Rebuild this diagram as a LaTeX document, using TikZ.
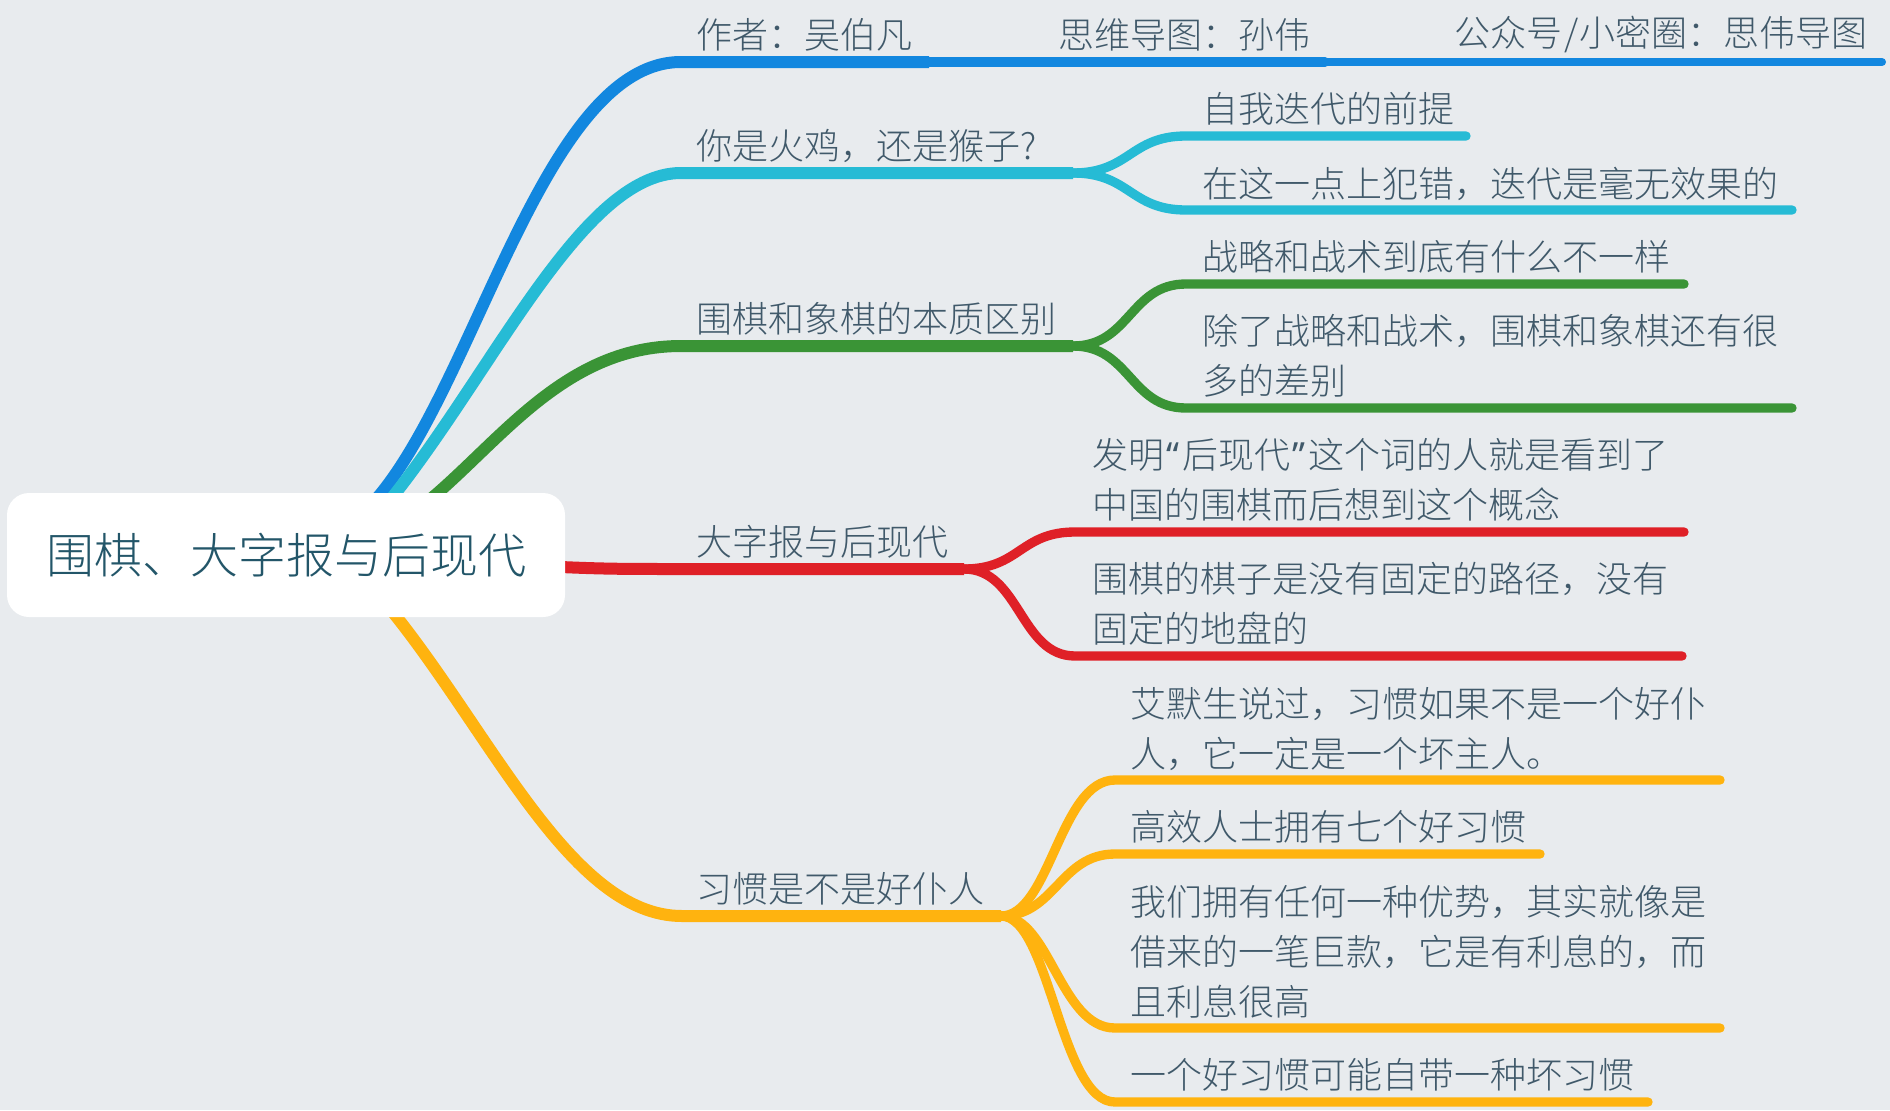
\documentclass[tikz,border=0pt]{standalone}
\usepackage{fontspec}
\setmainfont{Noto Sans CJK SC Light}
\newfontfamily\quotefont{Noto Sans}
\definecolor{bgc}{HTML}{E8EBEE}
\definecolor{txt}{HTML}{40596A}
\definecolor{roottxt}{HTML}{235669}
\definecolor{cblue}{HTML}{1287DF}
\definecolor{ccyan}{HTML}{26BBD5}
\definecolor{cgreen}{HTML}{3A9436}
\definecolor{cred}{HTML}{DF2027}
\definecolor{cyel}{HTML}{FFB30F}
\newcommand{\halfq}[1]{\makebox[13.5pt]{\quotefont #1}}
\tikzset{
  label/.style={anchor=west,inner sep=0pt,outer sep=0pt,yshift=0.2pt,text=txt,align=left,font=\fontsize{27}{37.5}\selectfont},
  rootbox/.style={fill=white,rounded corners=22*0.75pt,inner sep=0pt,minimum width=558*0.75pt,minimum height=124*0.75pt,text=roottxt,font=\fontsize{36}{40}\selectfont},
  mainline/.style={line width=9pt},
  midline/.style={line width=7.2pt,line cap=round},
  endline/.style={line width=6pt,line cap=round},
  subline/.style={line width=7pt,line cap=round}
}
\begin{document}
\begin{tikzpicture}[x=0.75pt,y=-0.75pt]
\useasboundingbox[fill=bgc] (0,0) rectangle (1890,1110);
% junction and end points
\coordinate (rb) at (366,510);
\coordinate (rc) at (382,510);
\coordinate (rg) at (417,510);
\coordinate (rr) at (540,566);
\coordinate (ry) at (387,605);
\coordinate (b0) at (681,62);
\coordinate (b1) at (929,62);
\coordinate (b2) at (1325,62);
\coordinate (b3) at (1882,62);
\coordinate (c0) at (681,173);
\coordinate (c1) at (1073,173);
\coordinate (g0) at (681,346);
\coordinate (g1) at (1073,346);
\coordinate (r0) at (681,569);
\coordinate (r1) at (964,569);
\coordinate (y0) at (682,916);
\coordinate (y1) at (1001,916);
\coordinate (c1a) at (1186,136); \coordinate (c1b) at (1466,136);
\coordinate (c2a) at (1186,210); \coordinate (c2b) at (1792,210);
\coordinate (g1a) at (1186,284); \coordinate (g1b) at (1684,284);
\coordinate (g2a) at (1186,408); \coordinate (g2b) at (1792,408);
\coordinate (r1a) at (1075,532); \coordinate (r1b) at (1684,532);
\coordinate (r2a) at (1075,656); \coordinate (r2b) at (1682,656);
\coordinate (y1a) at (1115,780); \coordinate (y1b) at (1720,780);
\coordinate (y2a) at (1115,854); \coordinate (y2b) at (1540,854);
\coordinate (y3a) at (1115,1028); \coordinate (y3b) at (1720,1028);
\coordinate (y4a) at (1115,1102); \coordinate (y4b) at (1648,1102);
% main branches
\draw[cblue,mainline] (rb) .. controls (472,405) and (540,62) .. (b0) -- (b1);
\draw[cblue,midline] (b1) -- (b2);
\draw[cblue,endline] (b2) -- (b3);
\draw[ccyan,mainline] (rc) .. controls (490,380) and (580,173) .. (c0) -- (c1);
\draw[cgreen,mainline] (rg) .. controls (495,450) and (560,346) .. (g0) -- (g1);
\draw[cred,mainline] (rr) .. controls (600,569) and (620,569) .. (r0) -- (r1);
\draw[cyel,mainline] (ry) .. controls (490,730) and (570,916) .. (y0) -- (y1);
% sub branches
\draw[ccyan,subline] (c1) .. controls (1130,173) and (1130,136) .. (c1a) -- (c1b);
\draw[ccyan,subline] (c1) .. controls (1130,173) and (1130,210) .. (c2a) -- (c2b);
\draw[cgreen,subline] (g1) .. controls (1130,346) and (1130,284) .. (g1a) -- (g1b);
\draw[cgreen,subline] (g1) .. controls (1130,346) and (1130,408) .. (g2a) -- (g2b);
\draw[cred,subline] (r1) .. controls (1020,569) and (1020,532) .. (r1a) -- (r1b);
\draw[cred,subline] (r1) .. controls (1020,569) and (1020,656) .. (r2a) -- (r2b);
\draw[cyel,subline] (y1) .. controls (1050,916) and (1060,780) .. (y1a) -- (y1b);
\draw[cyel,subline] (y1) .. controls (1055,916) and (1060,854) .. (y2a) -- (y2b);
\draw[cyel,subline] (y1) .. controls (1050,916) and (1060,1028) .. (y3a) -- (y3b);
\draw[cyel,subline] (y1) .. controls (1050,916) and (1060,1102) .. (y4a) -- (y4b);
% root
\node[rootbox] (root) at (286,555) {围棋、大字报与后现代};
% labels
\node[label] (t1) at (696,35) {作者：吴伯凡};
\node[label] (t2) at (1058,35) {思维导图：孙伟};
\node[label] (t3) at (1454,35) {公众号\kern1.5pt/\kern0.8pt小密圈：思伟导图};
\node[label] (t4) at (696,146) {你是火鸡，还是猴子?};
\node[label] (t5) at (1202,109) {自我迭代的前提};
\node[label] (t6) at (1202,184) {在这一点上犯错，迭代是毫无效果的};
\node[label] (t7) at (696,319) {围棋和象棋的本质区别};
\node[label] (t8) at (1202,257) {战略和战术到底有什么不一样};
\node[label] (t9) at (1202,356) {除了战略和战术，围棋和象棋还有很\\多的差别};
\node[label] (t10) at (696,542) {大字报与后现代};
\node[label] (t11) at (1092,480) {发明\halfq{“}后现代\halfq{”}这个词的人就是看到了\\中国的围棋而后想到这个概念};
\node[label] (t12) at (1092,604) {围棋的棋子是没有固定的路径，没有\\固定的地盘的};
\node[label] (t13) at (696,889) {习惯是不是好仆人};
\node[label] (t14) at (1130,729) {艾默生说过，习惯如果不是一个好仆\\人，它一定是一个坏主人。};
\node[label] (t15) at (1130,827) {高效人士拥有七个好习惯};
\node[label] (t16) at (1130,952) {我们拥有任何一种优势，其实就像是\\借来的一笔巨款，它是有利息的，而\\且利息很高};
\node[label] (t17) at (1130,1075) {一个好习惯可能自带一种坏习惯};
\end{tikzpicture}
\end{document}
